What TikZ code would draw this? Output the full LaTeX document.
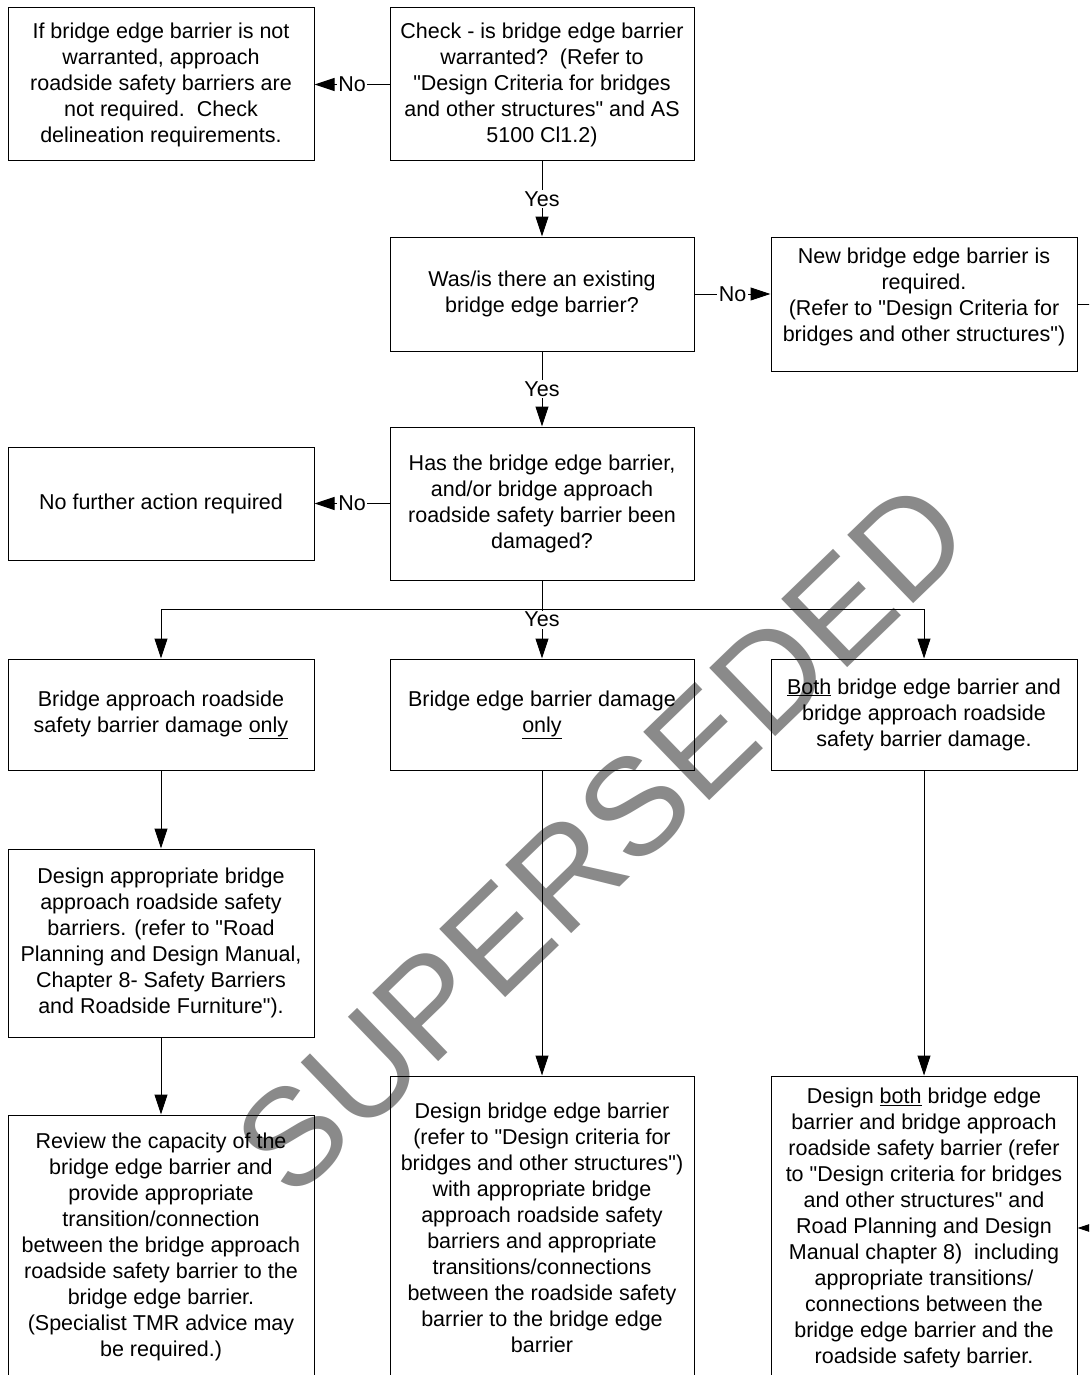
\documentclass[tikz,border=0pt]{standalone}
\usepackage{fontspec}
\setmainfont{Liberation Sans}
\usetikzlibrary{arrows.meta}
\newcommand{\dq}{\textquotedbl}
\begin{document}
\begin{tikzpicture}[x=1pt,y=-1pt,
  box/.style={draw, line width=1pt, rectangle, inner sep=0pt, align=center,
    font=\fontsize{21.5}{26}\selectfont},
  wbox/.style={box, minimum width=306pt},
  nbox/.style={box, minimum width=304pt},
  arr/.style={line width=1pt, -{Triangle[length=20pt,width=13pt]}},
  lab/.style={fill=white, inner sep=1.5pt, font=\fontsize{21.5}{26}\selectfont}]
\useasboundingbox (0,0) rectangle (1089,1375);
\clip (0,0) rectangle (1089,1375);
\fill[white] (0,0) rectangle (1089,1375);
% watermark
\node[text=black!46, font=\fontsize{138}{138}\selectfont, rotate=44, inner sep=0pt] (wm) at (602,838) {SUPERSEDED};
% boxes
\node[wbox, minimum height=153pt] (nowarr) at (161,84.5) {If bridge edge barrier is not\\warranted, approach\\roadside safety barriers are\\not required.\ \ Check\\delineation requirements.};
\node[nbox, minimum height=153pt] (check) at (542,84.5) {Check - is bridge edge barrier\\warranted?\ \ (Refer to\\\dq Design Criteria for bridges\\and other structures\dq{} and AS\\5100 Cl1.2)};
\node[nbox, minimum height=114pt] (exist) at (542,294) {Was/is there an existing\\bridge edge barrier?};
\node[wbox, minimum height=134pt] (newb) at (924,304) {New bridge edge barrier is\\required.\\(Refer to \dq Design Criteria for\\bridges and other structures\dq)\\[-8pt]};
\node[wbox, minimum height=113pt] (nofurther) at (161,503.5) {No further action required};
\node[nbox, minimum height=153pt] (damaged) at (542,503.5) {Has the bridge edge barrier,\\and/or bridge approach\\roadside safety barrier been\\damaged?};
\node[wbox, minimum height=111pt] (apponly) at (161,714.5) {Bridge approach roadside\\safety barrier damage \underline{only}};
\node[nbox, minimum height=111pt] (edgeonly) at (542,714.5) {Bridge edge barrier damage\\\underline{only}};
\node[wbox, minimum height=111pt] (both) at (924,714.5) {\underline{Both} bridge edge barrier and\\bridge approach roadside\\safety barrier damage.};
\node[wbox, minimum height=188pt] (designapp) at (161,943) {Design appropriate bridge\\approach roadside safety\\barriers. (refer to \dq Road\\Planning and Design Manual,\\Chapter 8- Safety Barriers\\and Roadside Furniture\dq).};
\node[wbox, minimum height=264pt] (review) at (161,1247) {Review the capacity of the\\bridge edge barrier and\\provide appropriate\\transition/connection\\between the bridge approach\\roadside safety barrier to the\\bridge edge barrier.\\(Specialist TMR advice may\\be required.)};
\node[nbox, minimum height=304pt] (designedge) at (542,1228) {Design bridge edge barrier\\(refer to \dq Design criteria for\\bridges and other structures\dq)\\with appropriate bridge\\approach roadside safety\\barriers and appropriate\\transitions/connections\\between the roadside safety\\barrier to the bridge edge\\barrier};
\node[wbox, minimum height=304pt] (designboth) at (924,1228) {Design \underline{both} bridge edge\\barrier and bridge approach\\roadside safety barrier (refer\\to \dq Design criteria for bridges\\and other structures\dq{} and\\Road Planning and Design\\Manual chapter 8)\ \ including\\appropriate transitions/\\connections between the\\bridge edge barrier and the\\roadside safety barrier.};
% connectors
\draw[arr] (check.west) -- node[lab]{No} (nowarr.east);
\draw[arr] (check.south) -- node[lab]{Yes} (exist.north);
\draw[arr] (exist.east) -- node[lab]{No} (exist.east -| newb.west);
\draw[arr] (exist.south) -- node[lab]{Yes} (damaged.north);
\draw[arr] (damaged.west) -- node[lab]{No} (nofurther.east);
\coordinate (junc) at (542,609);
\draw[arr] (junc) -| (apponly.north);
\draw[arr] (junc) -| (both.north);
\draw[arr] (damaged.south) -- node[lab]{Yes} (edgeonly.north);
\draw[arr] (apponly.south) -- (designapp.north);
\draw[arr] (designapp.south) -- (review.north);
\draw[arr] (edgeonly.south) -- (designedge.north);
\draw[arr] (both.south) -- (designboth.north);
\coordinate (rturn) at (1120,304);
\draw[arr] (newb.east) -- (rturn) |- (designboth.east);
\end{tikzpicture}
\end{document}
